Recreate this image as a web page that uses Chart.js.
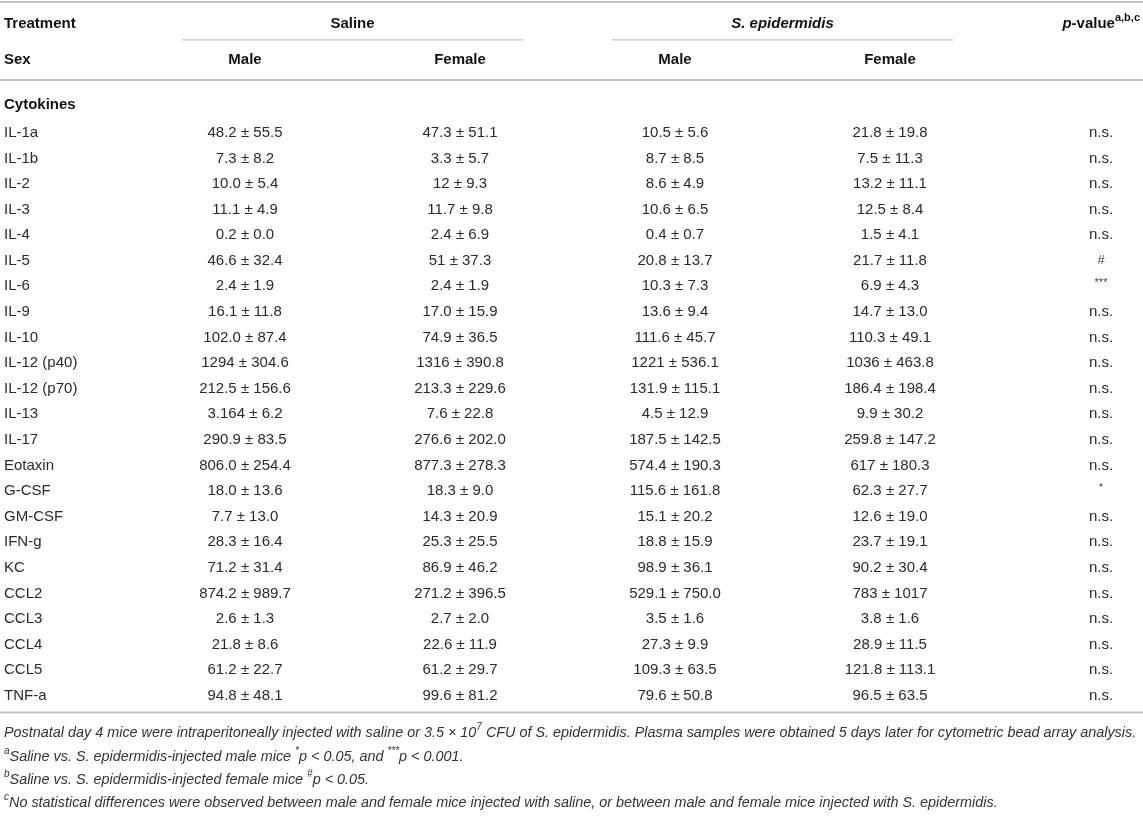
<!DOCTYPE html>
<html>
<head>
<meta charset="utf-8">
<script src="https://cdn.jsdelivr.net/npm/chart.js@4.4.1/dist/chart.umd.min.js"></script>
<style>
  html, body { margin: 0; padding: 0; background: #ffffff; }
  #wrap { width: 1143px; height: 822px; position: relative; }
</style>
</head>
<body>
<div id="wrap"><canvas id="tableChart"></canvas></div>
<script>
// Cytokine table (plasma, postnatal day 4 mice) drawn as a Chart.js scatter

const cytokines = ['IL-1a', 'IL-1b', 'IL-2', 'IL-3', 'IL-4', 'IL-5', 'IL-6', 'IL-9', 'IL-10',
    'IL-12 (p40)', 'IL-12 (p70)', 'IL-13', 'IL-17', 'Eotaxin', 'G-CSF', 'GM-CSF', 'IFN-g', 'KC',
    'CCL2', 'CCL3', 'CCL4', 'CCL5', 'TNF-a'];

const salineMale = ['48.2 ± 55.5', '7.3 ± 8.2', '10.0 ± 5.4', '11.1 ± 4.9', '0.2 ± 0.0', '46.6 ± 32.4',
    '2.4 ± 1.9', '16.1 ± 11.8', '102.0 ± 87.4', '1294 ± 304.6', '212.5 ± 156.6', '3.164 ± 6.2',
    '290.9 ± 83.5', '806.0 ± 254.4', '18.0 ± 13.6', '7.7 ± 13.0', '28.3 ± 16.4', '71.2 ± 31.4',
    '874.2 ± 989.7', '2.6 ± 1.3', '21.8 ± 8.6', '61.2 ± 22.7', '94.8 ± 48.1'];

const salineFemale = ['47.3 ± 51.1', '3.3 ± 5.7', '12 ± 9.3', '11.7 ± 9.8', '2.4 ± 6.9', '51 ± 37.3',
    '2.4 ± 1.9', '17.0 ± 15.9', '74.9 ± 36.5', '1316 ± 390.8', '213.3 ± 229.6', '7.6 ± 22.8',
    '276.6 ± 202.0', '877.3 ± 278.3', '18.3 ± 9.0', '14.3 ± 20.9', '25.3 ± 25.5', '86.9 ± 46.2',
    '271.2 ± 396.5', '2.7 ± 2.0', '22.6 ± 11.9', '61.2 ± 29.7', '99.6 ± 81.2'];

const epiMale = ['10.5 ± 5.6', '8.7 ± 8.5', '8.6 ± 4.9', '10.6 ± 6.5', '0.4 ± 0.7', '20.8 ± 13.7',
    '10.3 ± 7.3', '13.6 ± 9.4', '111.6 ± 45.7', '1221 ± 536.1', '131.9 ± 115.1', '4.5 ± 12.9',
    '187.5 ± 142.5', '574.4 ± 190.3', '115.6 ± 161.8', '15.1 ± 20.2', '18.8 ± 15.9', '98.9 ± 36.1',
    '529.1 ± 750.0', '3.5 ± 1.6', '27.3 ± 9.9', '109.3 ± 63.5', '79.6 ± 50.8'];

const epiFemale = ['21.8 ± 19.8', '7.5 ± 11.3', '13.2 ± 11.1', '12.5 ± 8.4', '1.5 ± 4.1', '21.7 ± 11.8',
    '6.9 ± 4.3', '14.7 ± 13.0', '110.3 ± 49.1', '1036 ± 463.8', '186.4 ± 198.4', '9.9 ± 30.2',
    '259.8 ± 147.2', '617 ± 180.3', '62.3 ± 27.7', '12.6 ± 19.0', '23.7 ± 19.1', '90.2 ± 30.4',
    '783 ± 1017', '3.8 ± 1.6', '28.9 ± 11.5', '121.8 ± 113.1', '96.5 ± 63.5'];

const pValues = ['n.s.', 'n.s.', 'n.s.', 'n.s.', 'n.s.', '#', '***', 'n.s.', 'n.s.', 'n.s.', 'n.s.', 'n.s.',
    'n.s.', 'n.s.', '*', 'n.s.', 'n.s.', 'n.s.', 'n.s.', 'n.s.', 'n.s.', 'n.s.', 'n.s.'];

const columns = ['Cytokine', 'Saline Male', 'Saline Female', 'Epi Male', 'Epi Female', 'p-value'];
const sexLabels = ['Male', 'Female', 'Male', 'Female'];

const FONT = '"Liberation Sans", Arial, Helvetica, sans-serif';
const TEXT = '#2a2a2a';
const RULE = '#c2c2c2';

// rich text: list of segments {t, sup, it, b}
function drawRich(ctx, segs, x, y, align, size, bold, italic) {
    const fontFor = s => {
        const it = (s.it !== undefined ? s.it : italic) ? 'italic ' : '';
        const b = (s.b !== undefined ? s.b : bold) ? 'bold ' : '';
        const sz = s.sup ? Math.round(size * 0.7) : size;
        return it + b + sz + 'px ' + FONT;
    };
    let total = 0;
    segs.forEach(s => { ctx.font = fontFor(s); total += ctx.measureText(s.t).width; });
    let cx = x;
    if (align === 'center') cx = x - total / 2;
    if (align === 'right') cx = x - total;
    ctx.textAlign = 'left';
    ctx.textBaseline = 'middle';
    const ty = y + 1.8;
    segs.forEach(s => {
        ctx.font = fontFor(s);
        ctx.fillText(s.t, cx, s.sup ? ty - size * 0.38 : ty);
        cx += ctx.measureText(s.t).width;
    });
}

function rule(ctx, x1, x2, y, w) {
    ctx.save();
    ctx.strokeStyle = RULE;
    ctx.lineWidth = w;
    ctx.beginPath();
    ctx.moveTo(x1, y);
    ctx.lineTo(x2, y);
    ctx.stroke();
    ctx.restore();
}

// draws each point as its text cell, plus headers, rules and footnotes
const tablePlugin = {
    id: 'tablePlugin',
    afterDraw(chart) {
        const ctx = chart.ctx;
        const xs = chart.scales.x;
        const ys = chart.scales.y;
        const W = chart.width;
        const colX = i => xs.getPixelForValue(i);
        const rowY = v => ys.getPixelForValue(v);
        ctx.save();

        // body cells
        chart.data.datasets.forEach((ds, di) => {
            const meta = chart.getDatasetMeta(di);
            ctx.fillStyle = TEXT;
            meta.data.forEach((pt, j) => {
                const txt = ds.cellText[j];
                const px = pt.x + (ds.shift || 0);
                if (ds.align === 'left') {
                    drawRich(ctx, [{ t: txt }], px, pt.y, 'left', 15, false, false);
                } else if (txt === '*' || txt === '***' || txt === '#') {
                    ctx.fillStyle = '#444';
                    drawRich(ctx, [{ t: txt }], px, pt.y - (txt === '#' ? 0 : 3), 'center', txt === '#' ? 13 : 11, false, false);
                    ctx.fillStyle = TEXT;
                } else {
                    drawRich(ctx, [{ t: txt }], px, pt.y, 'center', 15, false, false);
                }
            });
        });

        // rules
        rule(ctx, 0, W, rowY(-5.04), 2);
        rule(ctx, 0, W, rowY(-1.99), 2);
        rule(ctx, 0, W, rowY(22.72), 2);
        rule(ctx, colX(1) - 63, colX(2) + 63, rowY(-3.56), 1.2);
        rule(ctx, colX(3) - 63, colX(4) + 63, rowY(-3.56), 1.2);

        // headers
        ctx.fillStyle = '#111111';
        const hy = rowY(-4.26);
        drawRich(ctx, [{ t: 'Treatment' }], colX(0) - 26, hy, 'left', 15, true, false);
        drawRich(ctx, [{ t: 'Saline' }], (colX(1) + colX(2)) / 2, hy, 'center', 15, true, false);
        drawRich(ctx, [{ t: 'S. epidermidis' }], (colX(3) + colX(4)) / 2, hy, 'center', 15, true, true);
        drawRich(ctx, [{ t: 'p', it: true }, { t: '-value' }, { t: 'a,b,c', sup: true }], W - 3, hy, 'right', 15, true, false);

        const sy = rowY(-2.85);
        drawRich(ctx, [{ t: 'Sex' }], colX(0) - 26, sy, 'left', 15, true, false);
        sexLabels.forEach((s, i) => drawRich(ctx, [{ t: s }], colX(i + 1), sy, 'center', 15, true, false));

        drawRich(ctx, [{ t: 'Cytokines' }], colX(0) - 26, rowY(-1.09), 'left', 15, true, false);

        // footnotes
        ctx.fillStyle = '#333333';
        const fx = colX(0) - 26;
        const fs = 14.4;
        drawRich(ctx, [
            { t: 'Postnatal day 4 mice were intraperitoneally injected with saline or 3.5 × 10' },
            { t: '7', sup: true },
            { t: ' CFU of S. epidermidis. Plasma samples were obtained 5 days later for cytometric bead array analysis.' }
        ], fx, rowY(23.45), 'left', fs, false, true);
        drawRich(ctx, [
            { t: 'a', sup: true },
            { t: 'Saline vs. S. epidermidis-injected male mice ' },
            { t: '*', sup: true }, { t: 'p < 0.05, and ' },
            { t: '***', sup: true }, { t: 'p < 0.001.' }
        ], fx, rowY(24.38), 'left', fs, false, true);
        drawRich(ctx, [
            { t: 'b', sup: true },
            { t: 'Saline vs. S. epidermidis-injected female mice ' },
            { t: '#', sup: true }, { t: 'p < 0.05.' }
        ], fx, rowY(25.28), 'left', fs, false, true);
        drawRich(ctx, [
            { t: 'c', sup: true },
            { t: 'No statistical differences were observed between male and female mice injected with saline, or between male and female mice injected with S. epidermidis.' }
        ], fx, rowY(26.18), 'left', fs, false, true);

        ctx.restore();
    }
};

function cellSet(colIndex, texts, align, shift) {
    return {
        label: columns[colIndex],
        data: texts.map((_, i) => ({ x: columns[colIndex], y: i })),
        cellText: texts,
        align: align,
        shift: shift,
        pointRadius: 0,
        pointHoverRadius: 0,
        showLine: false
    };
}

const canvas = document.getElementById('tableChart');
new Chart(canvas, {
    type: 'scatter',
    data: {
        labels: columns,
        datasets: [
            cellSet(0, cytokines, 'left', -26),
            cellSet(1, salineMale, 'center', 0),
            cellSet(2, salineFemale, 'center', 0),
            cellSet(3, epiMale, 'center', 0),
            cellSet(4, epiFemale, 'center', 0),
            cellSet(5, pValues, 'center', -4)
        ]
    },
    options: {
        responsive: true,
        maintainAspectRatio: false,
        animation: false,
        events: [],
        layout: { padding: { left: 30, right: 38, top: 131, bottom: 128 } },
        scales: {
            x: { type: 'category', labels: columns, offset: false, display: false },
            y: { type: 'linear', min: 0, max: 22, reverse: true, display: false }
        },
        plugins: {
            legend: { display: false },
            tooltip: { enabled: false },
            title: { display: false }
        }
    },
    plugins: [tablePlugin]
});
</script>
</body>
</html>
